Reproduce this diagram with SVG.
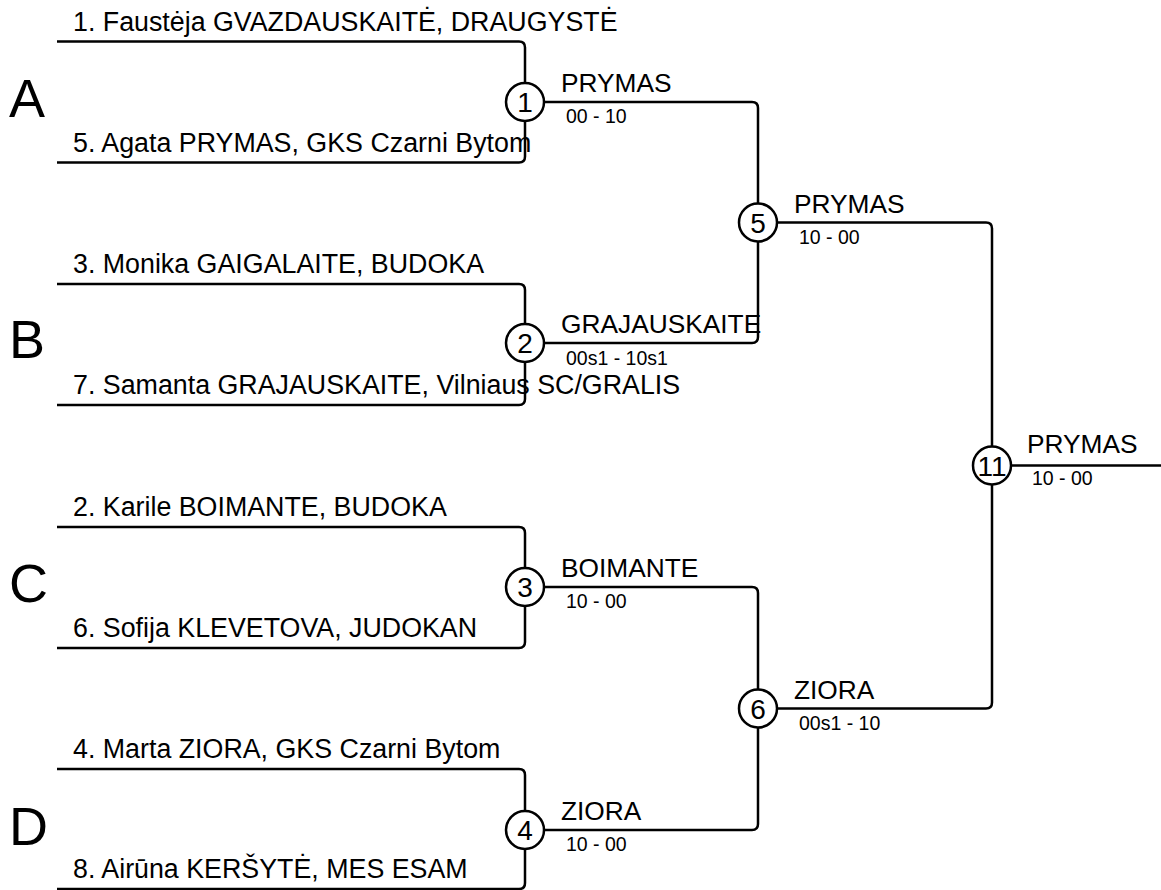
<svg xmlns="http://www.w3.org/2000/svg" width="1161" height="890" viewBox="0 0 1161 890">
<style>
text{font-family:"Liberation Sans",Arial,sans-serif;fill:#000}
.p{font-size:26.8px}
.w{font-size:26.3px}
.s{font-size:19.5px}
.n{font-size:28px;text-anchor:middle}
.g{font-size:54px}
.ln{fill:none;stroke:#000;stroke-width:2.5}
circle{fill:#fff;stroke:#000;stroke-width:2.5}
</style>
<rect width="1161" height="890" fill="#fff"/>
<g id="connectors">
<path class="ln" d="M57,41.5 H519 Q525,41.5 525,47.5 V156.5 Q525,162.5 519,162.5 H57"/>
<path class="ln" d="M57,284 H519 Q525,284 525,290 V399 Q525,405 519,405 H57"/>
<path class="ln" d="M57,527 H519 Q525,527 525,533 V642 Q525,648 519,648 H57"/>
<path class="ln" d="M57,769 H519 Q525,769 525,775 V883 Q525,889 519,889 H57"/>
<path class="ln" d="M525,102 H752 Q758,102 758,108 V337 Q758,343 752,343 H525"/>
<path class="ln" d="M525,587 H752 Q758,587 758,593 V824 Q758,830 752,830 H525"/>
<path class="ln" d="M758,222.5 H986 Q992,222.5 992,228.5 V702.5 Q992,708.5 986,708.5 H758"/>
<path class="ln" d="M992,465.5 H1161"/>
</g>
<g id="pool-labels">
<text class="g" x="9" y="117">A</text>
<text class="g" x="9" y="358">B</text>
<text class="g" x="9" y="602">C</text>
<text class="g" x="9" y="845">D</text>
</g>
<g id="players">
<text class="p" x="73" y="30.5">1. Faustėja GVAZDAUSKAITĖ, DRAUGYSTĖ</text>
<text class="p" x="73" y="152">5. Agata PRYMAS, GKS Czarni Bytom</text>
<text class="p" x="73" y="273">3. Monika GAIGALAITE, BUDOKA</text>
<text class="p" x="73" y="394">7. Samanta GRAJAUSKAITE, Vilniaus SC/GRALIS</text>
<text class="p" x="73" y="516">2. Karile BOIMANTE, BUDOKA</text>
<text class="p" x="73" y="637">6. Sofija KLEVETOVA, JUDOKAN</text>
<text class="p" x="73" y="758">4. Marta ZIORA, GKS Czarni Bytom</text>
<text class="p" x="73" y="878">8. Airūna KERŠYTĖ, MES ESAM</text>
</g>
<g id="match-1">
<circle cx="525" cy="102" r="19"/>
<text class="n" x="525" y="112">1</text>
<text class="w" x="561" y="92">PRYMAS</text>
<text class="s" x="566" y="123">00 - 10</text>
</g>
<g id="match-2">
<circle cx="525" cy="343" r="19"/>
<text class="n" x="525" y="353">2</text>
<text class="w" x="561" y="333">GRAJAUSKAITE</text>
<text class="s" x="566" y="365">00s1 - 10s1</text>
</g>
<g id="match-3">
<circle cx="525" cy="587" r="19"/>
<text class="n" x="525" y="597">3</text>
<text class="w" x="561" y="577">BOIMANTE</text>
<text class="s" x="566" y="608">10 - 00</text>
</g>
<g id="match-4">
<circle cx="525" cy="830" r="19"/>
<text class="n" x="525" y="840">4</text>
<text class="w" x="561" y="820">ZIORA</text>
<text class="s" x="566" y="851">10 - 00</text>
</g>
<g id="match-5">
<circle cx="758" cy="222.5" r="19"/>
<text class="n" x="758" y="232.5">5</text>
<text class="w" x="794" y="212.5">PRYMAS</text>
<text class="s" x="799" y="244">10 - 00</text>
</g>
<g id="match-6">
<circle cx="758" cy="708.5" r="19"/>
<text class="n" x="758" y="718.5">6</text>
<text class="w" x="794" y="698.5">ZIORA</text>
<text class="s" x="799" y="730">00s1 - 10</text>
</g>
<g id="match-11">
<circle cx="992" cy="465.5" r="19"/>
<text class="n" x="992" y="475.5">11</text>
<text class="w" x="1027" y="453">PRYMAS</text>
<text class="s" x="1032" y="485">10 - 00</text>
</g>
</svg>
